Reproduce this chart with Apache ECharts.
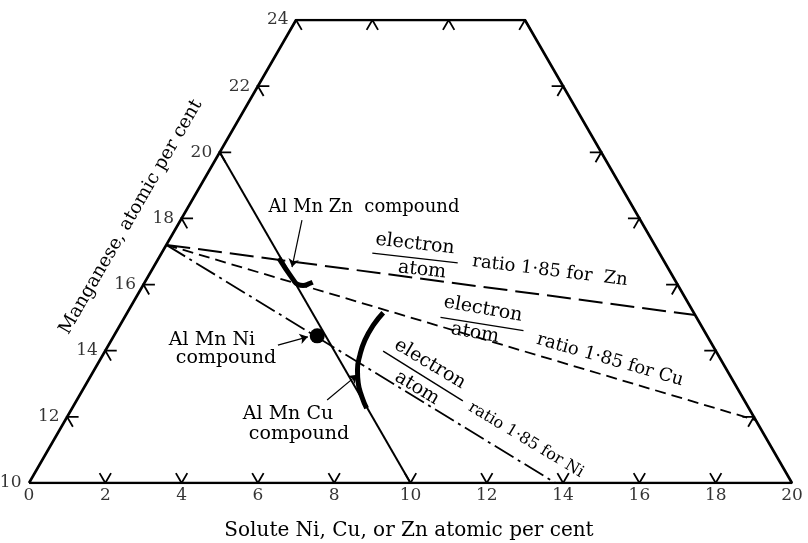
<!DOCTYPE html>
<html><head><meta charset="utf-8">
<script src="https://cdn.jsdelivr.net/npm/echarts@6/dist/echarts.min.js"></script>
<style>html,body{margin:0;padding:0;background:#fff}#c{width:808px;height:543px}</style>
</head><body><div id="c"></div>
<script>
// ---- data (ternary composition: [solute X at.%, Mn at.%]) ----
const bottomLabels = [0,2,4,6,8,10,12,14,16,18,20];
const leftLabels = [10,12,14,16,18,20,22,24];
const bottomTicks = [2,4,6,8,10,12,14,16,18];
const leftTicks = [12,14,16,18,20,22];
const topTicks = [0,2,4,6];
const rightTicks = [12,14,16,18,20,22];
const boundary = [[0,10],[0,24],[6,24],[20,10],[0,10]];
const al80Line = [[0,20],[10,10]];
const znRatio = [[0,17.2],[14.92,15.08]];
const cuRatio = [[0,17.2],[18.1,11.9]];
const niRatio = [[0,17.2],[13.8,10]];
const znCompound = [[3.15,16.8],[3.85,16.15],[4.05,16.0],[4.2,15.97],[4.35,16.04],[4.4,16.07]];
const cuCompound = [[6.71,15.15],[6.64,14.78],[6.645,14.32],[6.74,13.87],[6.9,13.42],[7.12,13.02],[7.42,12.61],[7.72,12.26]];
const niCompound = [[5.33,14.45]];
const znArrow = [[3.18,17.95],[3.63,16.53]];
const niArrow = [[4.44,14.17],[5.1,14.42]];
const cuArrow = [[6.56,12.51],[6.97,13.27]];

const S3 = Math.sqrt(3)/2;
const toXY = p => [p[0] + 0.5*(p[1]-10), (p[1]-10)*S3];
const T = 0.3;
const tickPolys = [];
bottomTicks.forEach(x => tickPolys.push([[x-T,10+T],[x,10],[x,10+T]]));
leftTicks.forEach(m => tickPolys.push([[T,m],[0,m],[T,m-T]]));
topTicks.forEach(x => tickPolys.push([[x,24-T],[x,24],[x+T,24-T]]));
rightTicks.forEach(m => { const x = 30-m; tickPolys.push([[x-T,m],[x,m],[x,m-T]]); });

const SERIF = '"DejaVu Serif", serif';
function lineSeries(pts, width, type, smooth) {
  return {type:'line', data: pts.map(toXY), showSymbol:false, symbol:'none', smooth: !!smooth,
    lineStyle:{color:'#000', width: width, type: type || 'solid', cap:'butt', opacity:1}, silent:true, z:3};
}
const rad = d => d*Math.PI/180;
// rotDeg > 0 : text descends to the right (clockwise)
function txt(text, x, y, size, rotDeg, style) {
  return {type:'text', x:x, y:y, rotation: -rad(rotDeg||0), z:10,
    style:{text:text, x:0, y:0, fill:'#000', font:(style||'')+' '+size+'px '+SERIF, align:'center', verticalAlign:'middle'}};
}
function bar(cx, cy, len, deg) {
  const a = rad(deg), dx = Math.cos(a)*len/2, dy = Math.sin(a)*len/2;
  return {type:'line', z:10, shape:{x1:cx-dx, y1:cy-dy, x2:cx+dx, y2:cy+dy}, style:{stroke:'#000', lineWidth:1.4}};
}
const tickLabel = {color:'#000', fontFamily:'DejaVu Serif', fontSize:17};

const chart = echarts.init(document.getElementById('c'), null, {renderer:'canvas'});
chart.setOption({
  animation:false,
  backgroundColor:'#fff',
  grid:{left:29, right:16, top:20, bottom:60},
  xAxis:{type:'value', min:0, max:20, show:false},
  yAxis:{type:'value', min:0, max:14*S3, show:false},
  series:[
    lineSeries(boundary, 2.6),
    lineSeries(al80Line, 2),
    lineSeries(znRatio, 2, [24,8]),
    lineSeries(cuRatio, 1.8, [11,6]),
    lineSeries(niRatio, 1.8, [22,5,3,5]),
    lineSeries(znCompound, 5, 'solid', true),
    lineSeries(cuCompound, 5, 'solid', true),
    {type:'lines', coordinateSystem:'cartesian2d', polyline:true, silent:true,
      data: tickPolys.map(p => ({coords: p.map(toXY)})),
      lineStyle:{color:'#000', width:1.8, opacity:1}, z:4},
    {type:'lines', coordinateSystem:'cartesian2d', silent:true,
      symbol:['none','arrow'], symbolSize:8,
      data: [znArrow, niArrow, cuArrow].map(p => ({coords: p.map(toXY)})),
      lineStyle:{color:'#000', width:1.2, opacity:1}, z:5},
    {type:'scatter', data: niCompound.map(toXY), symbolSize:15, itemStyle:{color:'#000', opacity:1}, silent:true, z:6},
    {type:'scatter', data: bottomLabels.map(x => ({value: toXY([x,10]), name:String(x)})),
      symbolSize:1, itemStyle:{color:'transparent'}, silent:true,
      label:Object.assign({show:true, position:'bottom', distance:4, formatter:p=>p.name}, tickLabel)},
    {type:'scatter', data: leftLabels.map(m => ({value: toXY([0,m]), name:String(m)})),
      symbolSize:1, itemStyle:{color:'transparent'}, silent:true,
      label:Object.assign({show:true, position:'left', distance:7, formatter:p=>p.name}, tickLabel)}
  ],
  graphic:[
    txt('Solute Ni, Cu, or Zn atomic per cent', 409, 531, 20),
    txt('Manganese, atomic per cent', 131, 217, 18.5, -60),
    txt('Al Mn Zn  compound', 364, 207, 18),
    txt('Al Mn Ni', 212, 340, 19),
    txt('compound', 226, 358, 19),
    txt('Al Mn Cu', 288, 414, 19),
    txt('compound', 299, 434, 19),
    // Zn
    txt('electron', 415, 244, 19, 6.5), bar(415, 258, 86, 6.5), txt('atom', 422, 270, 19, 6.5),
    txt('ratio 1·85 for  Zn', 550, 271, 18, 7),
    // Cu
    txt('electron', 483, 309, 19, 10), bar(482, 324, 84, 9), txt('atom', 475, 333, 19, 10),
    txt('ratio 1·85 for Cu', 610, 360, 18, 16),
    // Ni
    txt('electron', 430, 364, 19, 31), bar(423, 376, 94, 32), txt('atom', 417, 388, 19, 31),
    txt('ratio 1·85 for Ni', 526, 440, 16, 31)
  ]
});
</script></body></html>
